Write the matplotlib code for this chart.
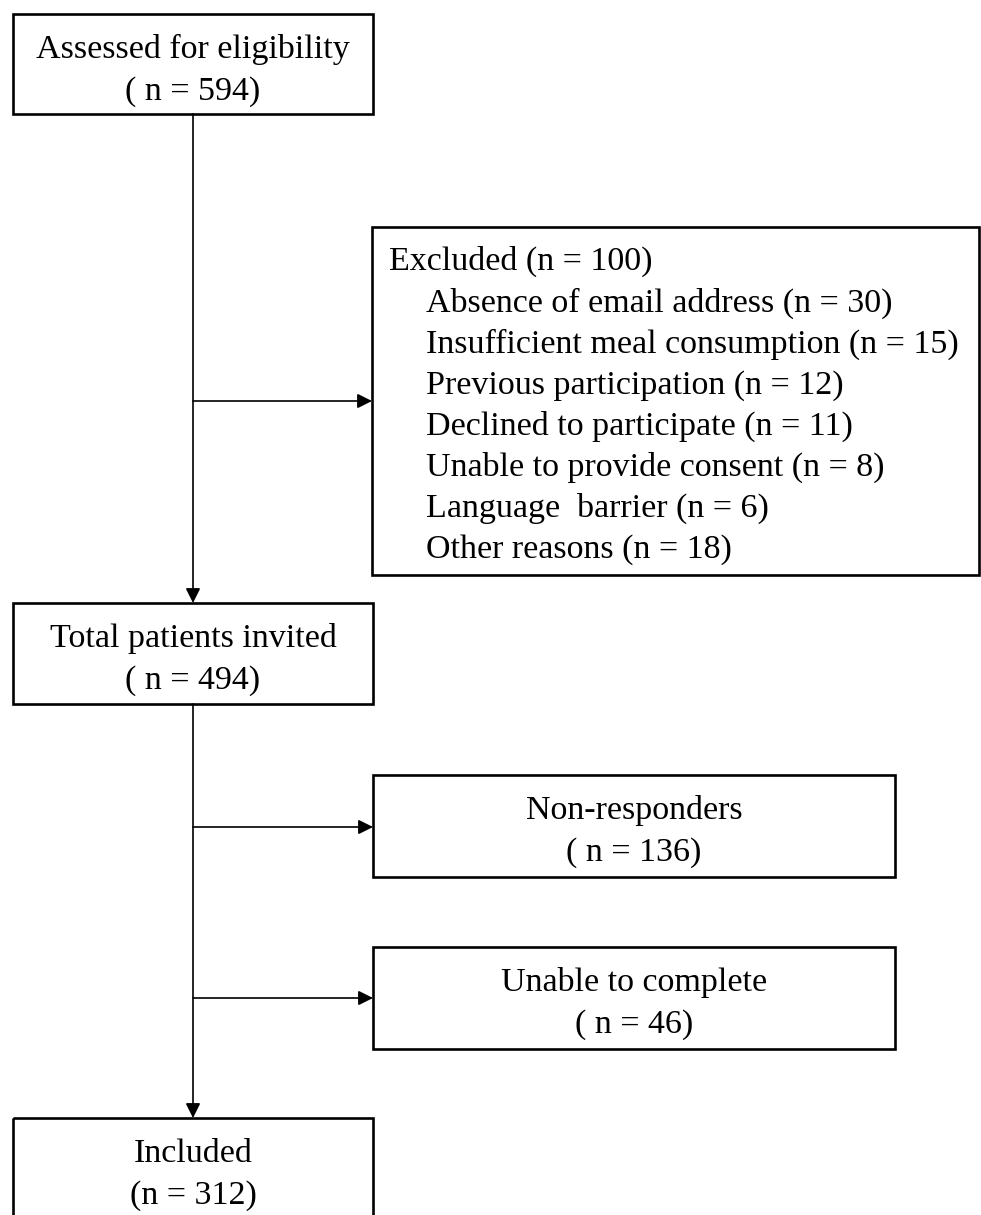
import matplotlib.pyplot as plt
from matplotlib.patches import Rectangle

plt.rcParams['font.family'] = ['Liberation Serif', 'DejaVu Serif']

# flow numbers
main_labels = ["Assessed for eligibility", "Total patients invited", "Included"]
main_counts = ["( n = 594)", "( n = 494)", "(n = 312)"]

excluded_total = 100
excluded_reasons = ["Absence of email address", "Insufficient meal consumption",
                    "Previous participation", "Declined to participate",
                    "Unable to provide consent", "Language  barrier", "Other reasons"]
excluded_counts = [30, 15, 12, 11, 8, 6, 18]

side_labels = ["Non-responders", "Unable to complete"]
side_counts = ["( n = 136)", "( n = 46)"]

# layout in pixel units (y downwards)
W, H = 981, 1215
fig = plt.figure(figsize=(W / 100, H / 100), dpi=100)
ax = fig.add_axes([0, 0, 1, 1])
ax.set_xlim(0, W)
ax.set_ylim(H, 0)
ax.axis('off')

box_lw = 1.9
line_lw = 1.2
fs = 24.5
trunk_x = 193

main_boxes = [(13, 14, 360, 100), (13, 603, 360, 101), (13, 1118, 360, 100)]
side_boxes = [(373, 775, 522, 102), (373, 947, 522, 102)]
excl_box = (372, 227, 607, 348)
branch_y = [401, 827, 998]


def box(x, y, w, h):
    ax.add_patch(Rectangle((x, y), w, h, fill=False, ec='black', lw=box_lw,
                           clip_on=False))


def arrow(x0, y0, x1, y1):
    ax.annotate('', xy=(x1, y1), xytext=(x0, y0),
                arrowprops=dict(arrowstyle='-|>', color='black', lw=line_lw,
                                mutation_scale=22, shrinkA=0, shrinkB=0))


def two_line(x, y, w, h, l1, l2):
    box(x, y, w, h)
    cx = x + w / 2
    ax.text(cx, y + 44, l1, ha='center', va='baseline', fontsize=fs)
    ax.text(cx, y + 86, l2, ha='center', va='baseline', fontsize=fs)


for (x, y, w, h), l1, l2 in zip(main_boxes, main_labels, main_counts):
    two_line(x, y, w, h, l1, l2)

for (x, y, w, h), l1, l2 in zip(side_boxes, side_labels, side_counts):
    two_line(x, y, w, h, l1, l2)

# excluded box with list of reasons
ex, ey, ew, eh = excl_box
box(ex, ey, ew, eh)
ax.text(ex + 17, ey + 43, f"Excluded (n = {excluded_total})", ha='left',
        va='baseline', fontsize=fs)
for i, (r, c) in enumerate(zip(excluded_reasons, excluded_counts)):
    ax.text(ex + 54, ey + 85 + 41 * i, f"{r} (n = {c})", ha='left',
            va='baseline', fontsize=fs)

# vertical trunk
top0 = main_boxes[0][1] + main_boxes[0][3]
arrow(trunk_x, top0, trunk_x, main_boxes[1][1])
top1 = main_boxes[1][1] + main_boxes[1][3]
arrow(trunk_x, top1, trunk_x, main_boxes[2][1])

# branches
arrow(trunk_x, branch_y[0], ex, branch_y[0])
for (x, y, w, h), by in zip(side_boxes, branch_y[1:]):
    arrow(trunk_x, by, x, by)

fig.savefig('out.png', dpi=100, facecolor='white')
